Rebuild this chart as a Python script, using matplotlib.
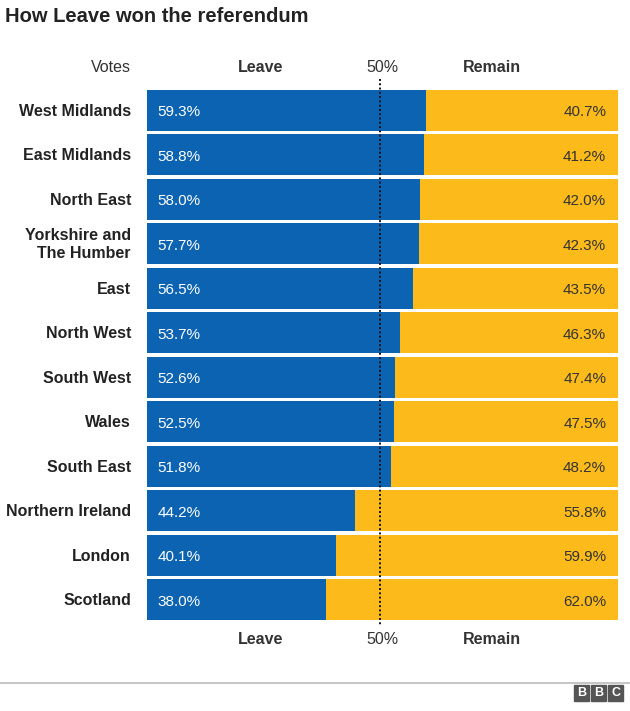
import matplotlib.pyplot as plt
from matplotlib.patches import Rectangle

regions = ["West Midlands", "East Midlands", "North East", "Yorkshire and\nThe Humber",
           "East", "North West", "South West", "Wales", "South East",
           "Northern Ireland", "London", "Scotland"]
leave = [59.3, 58.8, 58.0, 57.7, 56.5, 53.7, 52.6, 52.5, 51.8, 44.2, 40.1, 38.0]
remain = [40.7, 41.2, 42.0, 42.3, 43.5, 46.3, 47.4, 47.5, 48.2, 55.8, 59.9, 62.0]

blue = '#0b63b2'
yellow = '#fcbb1b'
dark = '#333333'

plt.rcParams['font.family'] = ['Liberation Sans', 'DejaVu Sans']

fig = plt.figure(figsize=(6.3, 7.11), dpi=100)
ax = fig.add_axes([147/630, 1-622/711, 471/630, 534/711])

y = list(range(len(regions)))
ax.barh(y, leave, height=0.93, color=blue, left=0)
ax.barh(y, remain, height=0.93, color=yellow, left=leave)
ax.set_xlim(0, 100)
ax.set_ylim(len(regions)-0.5, -0.5)
ax.axis('off')

for i in y:
    ax.text(2.3, i + 0.04, f"{leave[i]:.1f}%", color='white', va='center', ha='left', fontsize=11)
    ax.text(97.5, i + 0.04, f"{remain[i]:.1f}%", color=dark, va='center', ha='right', fontsize=11)
    ax.text(-3.4, i + 0.02, regions[i], color='#222222', va='center', ha='right', fontsize=11.5,
            fontweight='bold', linespacing=1.25, multialignment='right')

# dotted 50% line
ax.plot([49.5, 49.5], [-0.7, len(regions)-0.4], color='#111111', lw=1.4,
        ls=(0, (1, 1.2)), clip_on=False)

# headers
for ty in (1-67/711, 1-640/711):
    fig.text(261/630, ty, "Leave", ha='center', va='center', fontsize=11.5, fontweight='bold', color=dark)
    fig.text(382/630, ty, "50%", ha='center', va='center', fontsize=11.5, color=dark)
    fig.text(492/630, ty, "Remain", ha='center', va='center', fontsize=11.5, fontweight='bold', color=dark)
fig.text(111/630, 1-67/711, "Votes", ha='center', va='center', fontsize=11.5, color=dark)

fig.text(5/630, 1-16/711, "How Leave won the referendum", ha='left', va='center',
         fontsize=14.5, fontweight='bold', color='#222222')

# footer line and logo
fig.add_artist(plt.Line2D([0, 1], [1-683/711, 1-683/711], color='#bbbbbb', lw=1.2))
for k, letter in enumerate("BBC"):
    x0 = (574 + k*17)/630
    fig.add_artist(Rectangle((x0, 1-701/711), 15/630, 16/711, color='#555555',
                             transform=fig.transFigure))
    fig.text(x0 + 7.5/630, 1-693/711, letter, ha='center', va='center', fontsize=9,
             fontweight='bold', color='white')

fig.savefig('out.png', dpi=100)
